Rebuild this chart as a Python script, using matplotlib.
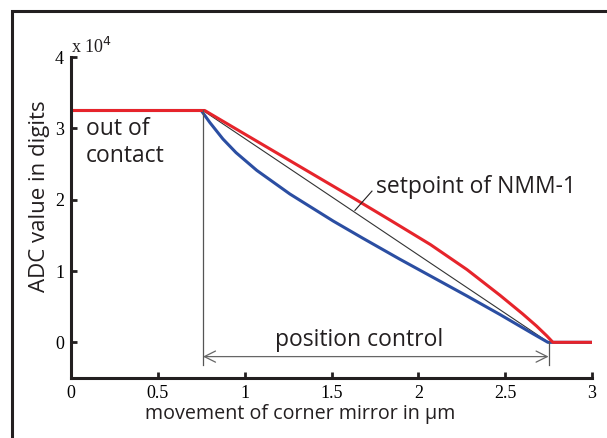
import matplotlib
matplotlib.use("Agg")
import matplotlib.pyplot as plt
from matplotlib.patches import Rectangle
from matplotlib.ticker import FuncFormatter

# measured curves, x in um, y in ADC digits
x_red = [0, 0.77, 1.0, 1.3, 1.6, 1.84, 2.07, 2.28, 2.47, 2.6, 2.68, 2.74, 2.775, 3.0]
y_red = [32500, 32500, 29200, 24900, 20600, 17100, 13700, 10200, 6600, 4000, 2300, 900, 0, 0]

x_blue = [0, 0.75, 0.8, 0.875, 0.95, 1.07, 1.26, 1.51, 1.68, 1.89, 2.07, 2.28, 2.47, 2.66, 2.746, 3.0]
y_blue = [32500, 32500, 30800, 28500, 26600, 24100, 20800, 17000, 14600, 11700, 9300, 6500, 3900, 1200, 0, 0]

# ideal setpoint line
x_set = [0.76, 2.75]
y_set = [32500, 0]

ctrl_start, ctrl_end = 0.76, 2.75

sans = ["Open Sans", "DejaVu Sans"]
serif = ["Liberation Serif", "DejaVu Serif"]
ink = "#231f20"

fig = plt.figure(figsize=(6.07, 4.38), dpi=100)
ax = fig.add_axes([71 / 607, 1 - 378 / 438, 521 / 607, 321 / 438])

# outer frame (cut off at right/bottom)
fig.patches.append(Rectangle((12 / 607, -0.1), 1.2, 1 - 11 / 438 + 0.1,
                             transform=fig.transFigure, fill=False,
                             edgecolor=ink, linewidth=2.2))

ax.plot(x_set, y_set, color="#333333", lw=0.8)
ax.plot(x_blue, y_blue, color="#2b4ea2", lw=2.2, solid_joinstyle="round")
ax.plot(x_red, y_red, color="#e6242b", lw=2.2, solid_joinstyle="round")

# position control markers
ax.plot([ctrl_start, ctrl_start], [32500, -3200], color="#555555", lw=0.9)
ax.plot([ctrl_end, ctrl_end], [0, -3200], color="#555555", lw=0.9)
ax.annotate("", xy=(ctrl_start, -2000), xytext=(ctrl_end, -2000),
            arrowprops=dict(arrowstyle="<->", color="#666666", lw=0.9,
                            shrinkA=0, shrinkB=0, mutation_scale=20))
ax.text(1.66, 300, "position control", fontsize=16.5, family=sans,
        ha="center", va="center", color=ink)

# setpoint label with leader line
ax.plot([1.635, 1.733], [18500, 21200], color=ink, lw=0.8)
ax.text(1.755, 21800, "setpoint of NMM-1", fontsize=16.5, family=sans,
        ha="left", va="center", color=ink)

ax.text(0.087, 31600, "out of\ncontact", fontsize=16.5, family=sans,
        ha="left", va="top", color=ink, linespacing=1.15)

ax.set_xlim(0, 3)
ax.set_ylim(-5000, 40000)
ax.set_xticks([0, 0.5, 1, 1.5, 2, 2.5, 3])
ax.set_xticklabels(["0", "0.5", "1", "1.5", "2", "2.5", "3"])
ax.set_yticks([0, 10000, 20000, 30000, 40000])
ax.yaxis.set_major_formatter(FuncFormatter(lambda v, p: f"{v / 1e4:g}"))
for lbl in ax.get_xticklabels() + ax.get_yticklabels():
    lbl.set_family(serif)
    lbl.set_fontsize(13)

ax.tick_params(direction="in", length=4, width=2, color=ink, pad=5)
for side in ["top", "right"]:
    ax.spines[side].set_visible(False)
for side in ["left", "bottom"]:
    ax.spines[side].set_linewidth(2.2)
    ax.spines[side].set_color(ink)

ax.text(0.0, 1.0, r"x 10$^4$", transform=ax.transAxes, fontsize=13,
        family=serif, ha="left", va="bottom", color=ink)

ax.set_xlabel("movement of corner mirror in µm", fontsize=14.2, family=sans,
              color=ink)
ax.set_ylabel("ADC value in digits", fontsize=16, family=sans, color=ink)
ax.xaxis.set_label_coords(0.44, -0.08)
ax.yaxis.set_label_coords(-0.04, 0.565)

fig.savefig("out.png", dpi=100)
